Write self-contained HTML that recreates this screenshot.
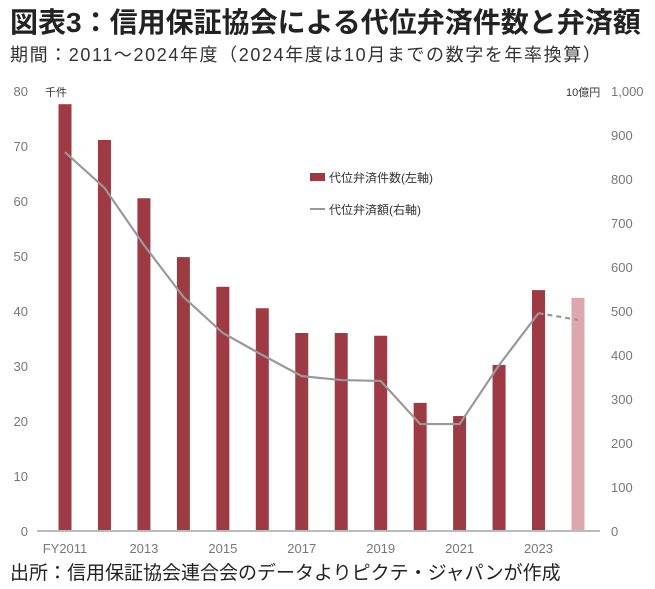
<!DOCTYPE html>
<html><head><meta charset="utf-8"><style>
body{margin:0;background:#fff;width:655px;height:589px;overflow:hidden;font-family:"Liberation Sans","Noto Sans CJK JP",sans-serif}
.t{position:absolute;left:10px;top:1px;font-size:28px;font-weight:bold;color:#222;white-space:nowrap}
.s{position:absolute;left:10px;top:41px;font-size:18px;letter-spacing:1.6px;color:#333;white-space:nowrap}
.f{position:absolute;left:10px;top:558px;font-size:19px;color:#222;white-space:nowrap}
svg{position:absolute;left:0;top:0}
</style></head><body>
<div class="t">図表3：信用保証協会による代位弁済件数と弁済額</div>
<div class="s">期間：2011～2024年度（2024年度は10月までの数字を年率換算）</div>
<svg id="c" width="655" height="589"></svg>
<div class="f">出所：信用保証協会連合会のデータよりピクテ・ジャパンが作成</div>
<script>
const years=[2011,2012,2013,2014,2015,2016,2017,2018,2019,2020,2021,2022,2023,2024];
const counts=[77.6,71.1,60.5,49.8,44.4,40.5,36,36,35.5,23.3,20.9,30.2,43.8,42.4];
const amounts=[861,780,650,532,450,400,352,343,341,243,243,377,495,480];
const leftTicks=[0,10,20,30,40,50,60,70,80];
const rightTicks=[0,100,200,300,400,500,600,700,800,900,1000];
const xLabels=["FY2011","2013","2015","2017","2019","2021","2023"];
const NS="http://www.w3.org/2000/svg",svg=document.getElementById('c');
const y0=531,yTop=91;
const yL=v=>y0-(v/80)*(y0-yTop), yR=v=>y0-(v/1000)*(y0-yTop);
const x=i=>65+i*39.46;
function mk(t,a,txt){const e=document.createElementNS(NS,t);for(const k in a)e.setAttribute(k,a[k]);if(txt!=null)e.textContent=txt;svg.appendChild(e);return e;}
leftTicks.forEach(v=>{const e=mk('text',{x:28,y:yL(v)+5,'text-anchor':'end','font-size':13,fill:'#777'},v);

});
rightTicks.forEach(v=>{const e=mk('text',{x:611,y:yR(v)+5,'font-size':13,fill:'#777'},v.toLocaleString('en-US'));

});
let u=mk('text',{x:45,y:96,'font-size':11,fill:'#333'},'千件');


u=mk('text',{x:566,y:96,'font-size':11,fill:'#333'},'10億円');


counts.forEach((v,i)=>{const last=i===counts.length-1;
const b=mk('rect',{x:x(i)-6.5,y:yL(v),width:13,height:y0-yL(v),fill:last?'#dca7ad':'#9e3a44'});

});
const ax=mk('line',{x1:37,x2:600,y1:y0,y2:y0,stroke:'#bbb','stroke-width':2});


xLabels.forEach((l,j)=>{const e=mk('text',{x:x(j*2),y:553,'text-anchor':'middle','font-size':13,fill:'#777'},l);

});
const n=amounts.length;
let d=amounts.slice(0,n-1).map((v,i)=>(i?'L':'M')+x(i)+','+yR(v)).join(' ');
const ln=mk('path',{d:d,fill:'none',stroke:'#999','stroke-width':2.2});


const dl=mk('path',{d:'M'+x(n-2)+','+yR(amounts[n-2])+' L'+x(n-1)+','+yR(amounts[n-1]),stroke:'#999','stroke-width':2.2,'stroke-dasharray':'5,4'});


let g=mk('rect',{x:310,y:173,width:15,height:8,fill:'#9e3a44'});


g=mk('text',{x:329,y:182,'font-size':12,fill:'#333'},'代位弁済件数(左軸)');


g=mk('line',{x1:310,x2:325,y1:209,y2:209,stroke:'#999','stroke-width':2});


g=mk('text',{x:329,y:214,'font-size':12,fill:'#333'},'代位弁済額(右軸)');


</script>
</body></html>
